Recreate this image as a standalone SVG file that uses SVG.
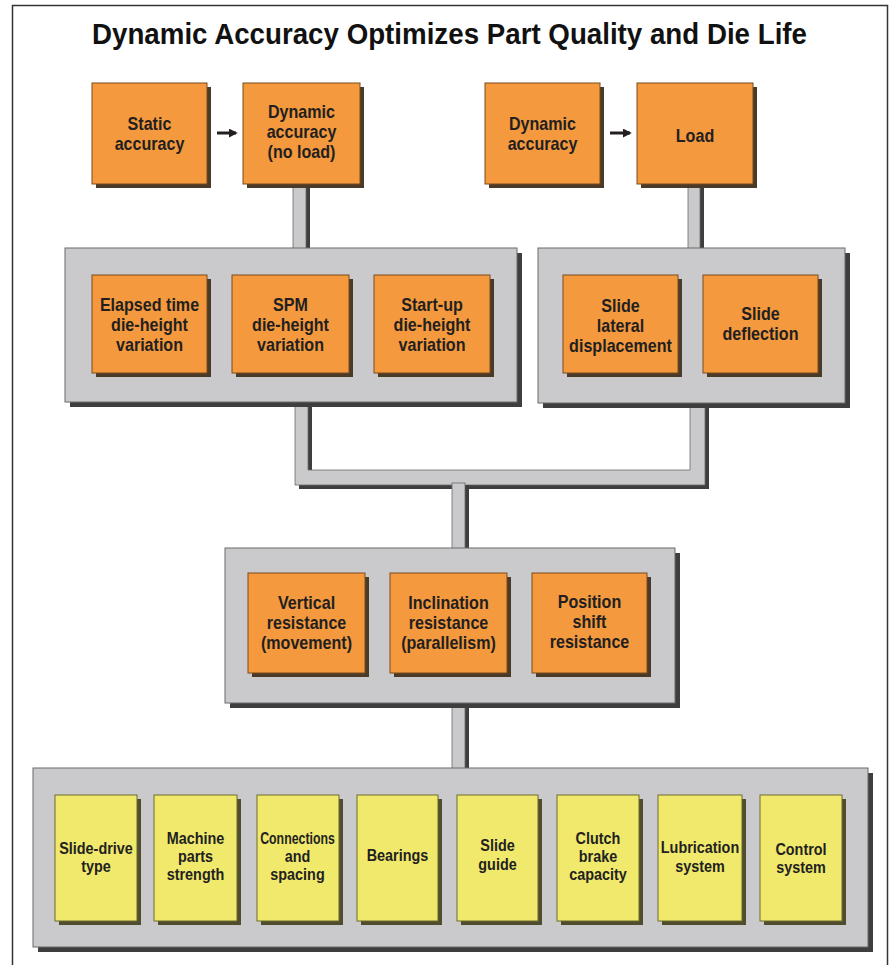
<svg xmlns="http://www.w3.org/2000/svg" width="894" height="965" viewBox="0 0 894 965">
<defs>
<style>
.ob{fill:#F4993D;stroke:#7a4a1c;stroke-width:1}
.yb{fill:#F0E96C;stroke:#6d6a2c;stroke-width:1}
.ct{fill:#CACACC;stroke:#6a6a6a;stroke-width:1}
.osh{fill:#4a3a28}
.ysh{fill:#4f4d2e}
.gsh{fill:#3e3e3e}
.pipe{fill:#CACACC;stroke:#6a6a6a;stroke-width:0.8}
text{font-family:"Liberation Sans",Arial,sans-serif;font-weight:bold;fill:#231f20;text-anchor:middle}
.o{font-size:17.5px}
.y{font-size:16px}
.title{font-size:29px;fill:#111}
.arr{stroke:#231f20;stroke-width:3;fill:none}
</style>
<marker id="ah" viewBox="0 0 10 10" refX="8" refY="5" markerWidth="3" markerHeight="3" orient="auto" markerUnits="strokeWidth">
<path d="M0,0 L10,5 L0,10 Z" fill="#231f20"/>
</marker>
</defs>
<rect x="0" y="0" width="894" height="965" fill="#fff"/>
<rect x="12.5" y="5.5" width="875" height="975" fill="none" stroke="#333" stroke-width="1.5"/>
<text class="title" x="449.5" y="43.5" textLength="715" lengthAdjust="spacingAndGlyphs">Dynamic Accuracy Optimizes Part Quality and Die Life</text>

<g id="connectors">
<line class="arr" x1="217" y1="133" x2="236" y2="133" marker-end="url(#ah)"/>
<line class="arr" x1="610" y1="133" x2="630" y2="133" marker-end="url(#ah)"/>
<rect class="gsh" x="297" y="184" width="13" height="66"/>
<rect class="pipe" x="293" y="184" width="13" height="66"/>
<rect class="gsh" x="692" y="184" width="12" height="66"/>
<rect class="pipe" x="688" y="184" width="12" height="66"/>
<path class="gsh" transform="translate(4,4)" d="M295,400 V485 H705 V400 H690 V470 H308 V400 Z"/>
<path class="pipe" d="M295,400 V485 H705 V400 H690 V470 H308 V400 Z"/>
<rect class="gsh" x="456" y="485" width="13" height="65"/>
<rect class="pipe" x="452" y="483" width="13" height="67"/>
<rect class="gsh" x="456" y="703" width="13" height="67"/>
<rect class="pipe" x="452" y="701" width="13" height="69"/>
</g>

<g id="static-accuracy">
<rect class="osh" x="96" y="87" width="115" height="101"/>
<rect class="ob" x="92" y="83" width="115" height="101"/>
<g transform="translate(149.5 0) scale(0.92 1)">
<text class="o" x="0" y="130">Static</text>
<text class="o" x="0" y="150">accuracy</text>
</g>
</g>
<g id="dynamic-accuracy-no-load">
<rect class="osh" x="247" y="87" width="117" height="101"/>
<rect class="ob" x="243" y="83" width="117" height="101"/>
<g transform="translate(301.5 0) scale(0.92 1)">
<text class="o" x="0" y="118.5">Dynamic</text>
<text class="o" x="0" y="138.5">accuracy</text>
<text class="o" x="0" y="158.5">(no load)</text>
</g>
</g>
<g id="dynamic-accuracy">
<rect class="osh" x="489" y="87" width="115" height="101"/>
<rect class="ob" x="485" y="83" width="115" height="101"/>
<g transform="translate(542.5 0) scale(0.92 1)">
<text class="o" x="0" y="130.5">Dynamic</text>
<text class="o" x="0" y="150.5">accuracy</text>
</g>
</g>
<g id="load">
<rect class="osh" x="641" y="87" width="116" height="101"/>
<rect class="ob" x="637" y="83" width="116" height="101"/>
<g transform="translate(695 0) scale(0.92 1)">
<text class="o" x="0" y="142">Load</text>
</g>
</g>

<g id="die-height-group">
<rect class="gsh" x="70" y="253" width="452" height="154"/>
<rect class="ct" x="65" y="248" width="452" height="154"/>
</g>
<g id="elapsed-time">
<rect class="osh" x="96" y="279" width="115" height="98"/>
<rect class="ob" x="92" y="275" width="115" height="98"/>
<g transform="translate(149.5 0) scale(0.92 1)">
<text class="o" x="0" y="311">Elapsed time</text>
<text class="o" x="0" y="331">die-height</text>
<text class="o" x="0" y="351">variation</text>
</g>
</g>
<g id="spm">
<rect class="osh" x="236" y="279" width="117" height="98"/>
<rect class="ob" x="232" y="275" width="117" height="98"/>
<g transform="translate(290.5 0) scale(0.92 1)">
<text class="o" x="0" y="311">SPM</text>
<text class="o" x="0" y="331">die-height</text>
<text class="o" x="0" y="351">variation</text>
</g>
</g>
<g id="start-up">
<rect class="osh" x="378" y="279" width="116" height="98"/>
<rect class="ob" x="374" y="275" width="116" height="98"/>
<g transform="translate(432 0) scale(0.92 1)">
<text class="o" x="0" y="311">Start-up</text>
<text class="o" x="0" y="331">die-height</text>
<text class="o" x="0" y="351">variation</text>
</g>
</g>

<g id="slide-group">
<rect class="gsh" x="543" y="253" width="307" height="155"/>
<rect class="ct" x="538" y="248" width="307" height="155"/>
</g>
<g id="slide-lateral">
<rect class="osh" x="567" y="279" width="115" height="98"/>
<rect class="ob" x="563" y="275" width="115" height="98"/>
<g transform="translate(620.5 0) scale(0.92 1)">
<text class="o" x="0" y="312">Slide</text>
<text class="o" x="0" y="332">lateral</text>
<text class="o" x="0" y="352">displacement</text>
</g>
</g>
<g id="slide-deflection">
<rect class="osh" x="707" y="279" width="115" height="98"/>
<rect class="ob" x="703" y="275" width="115" height="98"/>
<g transform="translate(760.5 0) scale(0.92 1)">
<text class="o" x="0" y="320">Slide</text>
<text class="o" x="0" y="340">deflection</text>
</g>
</g>

<g id="resistance-group">
<rect class="gsh" x="230" y="553" width="450" height="155"/>
<rect class="ct" x="225" y="548" width="450" height="155"/>
</g>
<g id="vertical-resistance">
<rect class="osh" x="252" y="577" width="117" height="100"/>
<rect class="ob" x="248" y="573" width="117" height="100"/>
<g transform="translate(306.5 0) scale(0.92 1)">
<text class="o" x="0" y="609">Vertical</text>
<text class="o" x="0" y="629">resistance</text>
<text class="o" x="0" y="649">(movement)</text>
</g>
</g>
<g id="inclination-resistance">
<rect class="osh" x="394" y="577" width="117" height="100"/>
<rect class="ob" x="390" y="573" width="117" height="100"/>
<g transform="translate(448.5 0) scale(0.92 1)">
<text class="o" x="0" y="609">Inclination</text>
<text class="o" x="0" y="629">resistance</text>
<text class="o" x="0" y="649">(parallelism)</text>
</g>
</g>
<g id="position-shift-resistance">
<rect class="osh" x="536" y="577" width="115" height="100"/>
<rect class="ob" x="532" y="573" width="115" height="100"/>
<g transform="translate(589.5 0) scale(0.92 1)">
<text class="o" x="0" y="608">Position</text>
<text class="o" x="0" y="628">shift</text>
<text class="o" x="0" y="648">resistance</text>
</g>
</g>

<g id="factors-group">
<rect class="gsh" x="38" y="773" width="835" height="179"/>
<rect class="ct" x="33" y="768" width="835" height="179"/>
</g>
<g id="slide-drive-type">
<rect class="ysh" x="59" y="799" width="82" height="126"/>
<rect class="yb" x="55" y="795" width="82" height="126"/>
<g transform="translate(96 0) scale(0.9 1)">
<text class="y" x="0" y="854">Slide-drive</text>
<text class="y" x="0" y="872">type</text>
</g>
</g>
<g id="machine-parts-strength">
<rect class="ysh" x="158" y="799" width="83" height="126"/>
<rect class="yb" x="154" y="795" width="83" height="126"/>
<g transform="translate(195.5 0) scale(0.9 1)">
<text class="y" x="0" y="844">Machine</text>
<text class="y" x="0" y="862">parts</text>
<text class="y" x="0" y="880">strength</text>
</g>
</g>
<g id="connections-and-spacing">
<rect class="ysh" x="261" y="799" width="82" height="126"/>
<rect class="yb" x="257" y="795" width="82" height="126"/>
<g transform="translate(297.5 0) scale(0.9 1)">
<text class="y" x="0" y="844" textLength="83" lengthAdjust="spacingAndGlyphs">Connections</text>
<text class="y" x="0" y="862">and</text>
<text class="y" x="0" y="880">spacing</text>
</g>
</g>
<g id="bearings">
<rect class="ysh" x="361" y="799" width="81" height="126"/>
<rect class="yb" x="357" y="795" width="81" height="126"/>
<g transform="translate(397.5 0) scale(0.9 1)">
<text class="y" x="0" y="861">Bearings</text>
</g>
</g>
<g id="slide-guide">
<rect class="ysh" x="461" y="799" width="81" height="126"/>
<rect class="yb" x="457" y="795" width="81" height="126"/>
<g transform="translate(497.5 0) scale(0.9 1)">
<text class="y" x="0" y="851">Slide</text>
<text class="y" x="0" y="870">guide</text>
</g>
</g>
<g id="clutch-brake-capacity">
<rect class="ysh" x="561" y="799" width="82" height="126"/>
<rect class="yb" x="557" y="795" width="82" height="126"/>
<g transform="translate(598 0) scale(0.9 1)">
<text class="y" x="0" y="844">Clutch</text>
<text class="y" x="0" y="862">brake</text>
<text class="y" x="0" y="880">capacity</text>
</g>
</g>
<g id="lubrication-system">
<rect class="ysh" x="662" y="799" width="84" height="126"/>
<rect class="yb" x="658" y="795" width="84" height="126"/>
<g transform="translate(700 0) scale(0.9 1)">
<text class="y" x="0" y="853">Lubrication</text>
<text class="y" x="0" y="872">system</text>
</g>
</g>
<g id="control-system">
<rect class="ysh" x="764" y="799" width="82" height="126"/>
<rect class="yb" x="760" y="795" width="82" height="126"/>
<g transform="translate(801 0) scale(0.9 1)">
<text class="y" x="0" y="855">Control</text>
<text class="y" x="0" y="873">system</text>
</g>
</g>
</svg>
